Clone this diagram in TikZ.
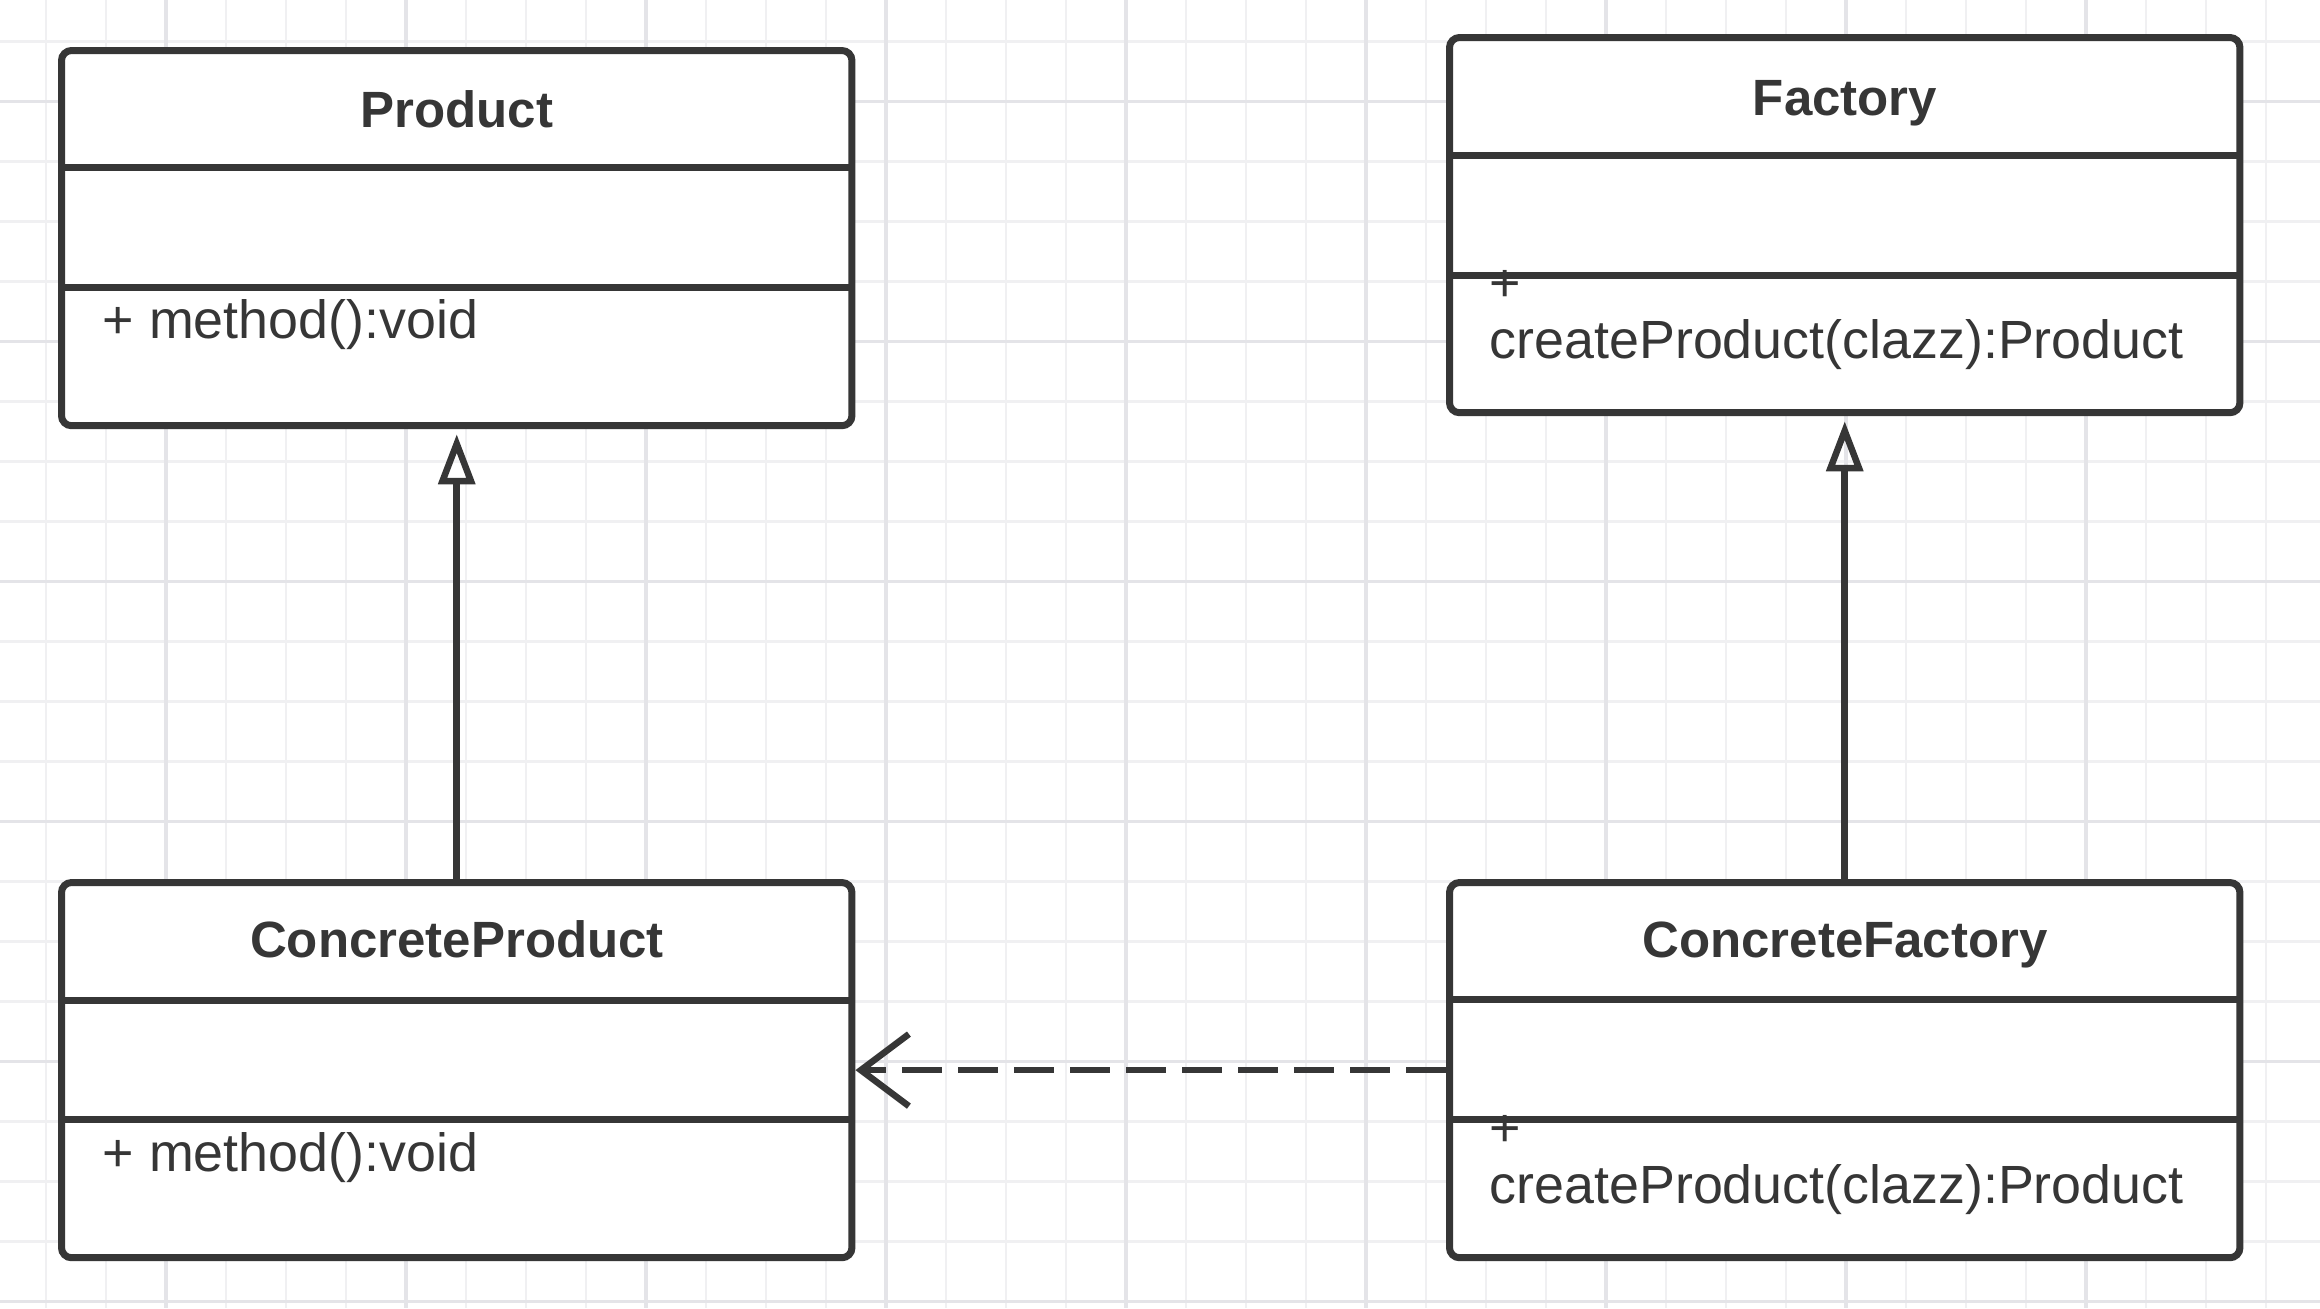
\documentclass[tikz,border=0pt]{standalone}
\usepackage{fontspec}
\setmainfont{Liberation Sans}
\usepackage{xcolor}
\usetikzlibrary{arrows.meta,positioning}
\definecolor{ink}{HTML}{363636}
\definecolor{gridminor}{HTML}{F0F0F2}
\definecolor{gridmajor}{HTML}{E4E4E8}

\begin{document}
\begin{tikzpicture}[
          x=0.01cm, y=-0.01cm,
          every node/.style={font=\fontsize{15.3pt}{18pt}\selectfont,text=ink,inner sep=0pt},
          cls/.style={draw=ink,fill=white,line width=0.07cm,rounded corners=0.1cm,
                      minimum width=7.9cm,minimum height=3.75cm,anchor=north west},
          clsname/.style={anchor=base,font=\fontsize{14.5pt}{17pt}\selectfont\bfseries},
          member/.style={anchor=base west},
          sep/.style={draw=ink,line width=0.07cm},
          minor/.style={draw=gridminor,line width=0.025cm},
          major/.style={draw=gridmajor,line width=0.035cm},
          inherit/.style={-{Triangle[open,length=0.5cm,width=0.36cm]},draw=ink,line width=0.065cm},
          depend/.style={-{Straight Barb[length=0.48cm,width=0.72cm]},draw=ink,
                         line width=0.065cm,dash pattern=on 0.4cm off 0.16cm},
      ]
        \useasboundingbox (0,0) rectangle (2320,1308);
        \fill[white] (0,0) rectangle (2320,1308);

        % background grid
        \foreach \gx in {46,106,...,2320} \draw[minor] (\gx,0) -- (\gx,1308);
        \foreach \gy in {41.7,101.7,...,1308} \draw[minor] (0,\gy) -- (2320,\gy);
        \foreach \gx in {166,406,...,2320} \draw[major] (\gx,0) -- (\gx,1308);
        \foreach \gy in {101.7,341.7,...,1308} \draw[major] (0,\gy) -- (2320,\gy);

        % Product
        \node[cls] (prod) at (58,47) {};
        \draw[sep] (62,167) -- (852,167);
        \draw[sep] (62,287) -- (852,287);
        \node[clsname] (prodname) at (457,127) {Product};
        \node[member] (prodop) at (102,338) {+ method():void};

        % Factory
        \node[cls] (fac) at (1446,34) {};
        \draw[sep] (1450,155) -- (2240,155);
        \draw[sep] (1450,275) -- (2240,275);
        \node[clsname] (facname) at (1845,115) {Factory};
        \node[member] (facplus) at (1489,301) {+};
        \node[member] (facop) at (1489,358) {createProduct(clazz):Product};

        % ConcreteProduct
        \node[cls] (cprod) at (58,879) {};
        \draw[sep] (62,1000) -- (852,1000);
        \draw[sep] (62,1119) -- (852,1119);
        \node[clsname] (cprodname) at (457,957) {ConcreteProduct};
        \node[member] (cprodop) at (102,1171) {+ method():void};

        % ConcreteFactory
        \node[cls] (cfac) at (1446,879) {};
        \draw[sep] (1450,999) -- (2240,999);
        \draw[sep] (1450,1119) -- (2240,1119);
        \node[clsname] (cfacname) at (1845,957) {ConcreteFactory};
        \node[member] (cfacplus) at (1489,1146) {+};
        \node[member] (cfacop) at (1489,1203) {createProduct(clazz):Product};

        % relations
        \draw[inherit] (cprod.north) -- ([yshift=-0.05cm]prod.south);
        \draw[inherit] (cfac.north) -- ([yshift=-0.05cm]fac.south);
        \draw[depend] (cfac.west) -- (cprod.east);
      \end{tikzpicture}
\end{document}
